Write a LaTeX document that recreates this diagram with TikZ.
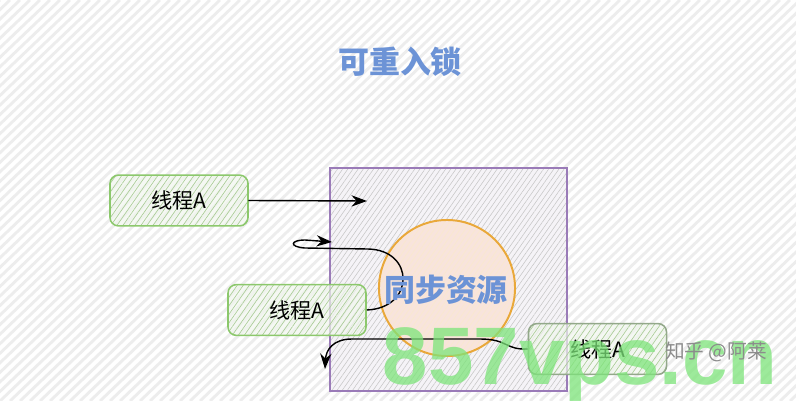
\documentclass[tikz,border=0pt]{standalone}
\usepackage{fontspec}
\setmainfont{Liberation Sans}
\newfontfamily\cjk{Noto Sans CJK SC}
\usepackage{tikz}
\usetikzlibrary{arrows.meta,positioning,patterns.meta}
\definecolor{BgStripe}{HTML}{EDEDED}
\definecolor{TitleBlue}{HTML}{6C93D6}
\definecolor{ThreadGreen}{HTML}{8CC86C}
\definecolor{ThreadGrey}{HTML}{93A88A}
\definecolor{ThreadFill}{HTML}{F1F6EE}
\definecolor{HatchGreen}{HTML}{A9CC95}
\definecolor{LockPurple}{HTML}{9A7BB8}
\definecolor{LockFill}{HTML}{F5F3F7}
\definecolor{ResOrange}{HTML}{E9A83A}
\definecolor{ResFill}{HTML}{F8E4DC}
\definecolor{MarkGreen}{HTML}{7DE47A}

\begin{document}
\begin{tikzpicture}[x=0.025cm,y=-0.025cm,
  thread/.style={draw=ThreadGreen,line width=1.1pt,rounded corners=6pt,
    minimum width=3.45cm,minimum height=1.27cm,
    preaction={fill=ThreadFill,fill opacity=0.7},
    pattern={Lines[angle=55,distance=3.5pt,line width=0.45pt]},pattern color=HatchGreen,
    font=\cjk\fontsize{15}{17}\selectfont},
  flow/.style={-{Stealth[length=11pt,width=8pt]},line width=1pt}]
  \useasboundingbox (0,0) rectangle (796,401);
  % striped background
  \fill[white] (0,0) rectangle (796,401);
  \begin{scope}
    \clip (0,0) rectangle (796,401);
    \foreach \x in {-430,-420,...,800}
      \draw[BgStripe,line width=2pt] (\x,401) -- ++(420,-401);
  \end{scope}
  \node[font=\cjk\bfseries\fontsize{22}{25}\selectfont,text=TitleBlue] (title) at (400,62) {可重入锁};
  % lock box and resource
  \node[draw=LockPurple,line width=1pt,minimum width=5.925cm,minimum height=5.575cm,
    preaction={fill=LockFill},
    pattern={Lines[angle=55,distance=3pt,line width=0.4pt]},pattern color=black!22] (lock) at (448.5,279.5) {};
  \node[circle,draw=ResOrange,line width=1.4pt,minimum size=3.4cm,
    preaction={fill=ResFill},
    pattern={Lines[angle=55,distance=3pt,line width=0.4pt]},pattern color=ResOrange!25] (res) at (447,288) {};
  % threads
  \node[thread] (t1) at (179,200.5) {线程A};
  \node[thread] (t2) at (297,310) {线程A};
  \node[thread,draw=ThreadGrey] (t3) at (597.5,349) {线程A};
  \coordinate (in) at (367,201);
  \coordinate (back) at (332,242);
  \coordinate (out) at (325,369);
  \draw[flow] (t1.east) -- (in);
  \draw[flow] (t2.east) .. controls (415,308) and (415,250) .. (368,249)
    -- (305,248) .. controls (289,247) and (290,240) .. (305,240) -- (back);
  \draw[flow] (t3.west) .. controls (505,350) and (508,339) .. (480,339)
    -- (352,339) .. controls (333,339) and (326,350) .. (out);
  \node[font=\cjk\bfseries\fontsize{22}{25}\selectfont,text=TitleBlue] (resname) at (446,290) {同步资源};
  % marks
  \node[font=\bfseries\fontsize{58}{60}\selectfont,text=MarkGreen,opacity=0.75,anchor=base west] (mark) at (378,384) {857vps.cn};
  \node[font=\cjk\fontsize{14}{16}\selectfont,text=black!45] (user) at (716,352) {知乎 @阿莱};
\end{tikzpicture}
\end{document}
